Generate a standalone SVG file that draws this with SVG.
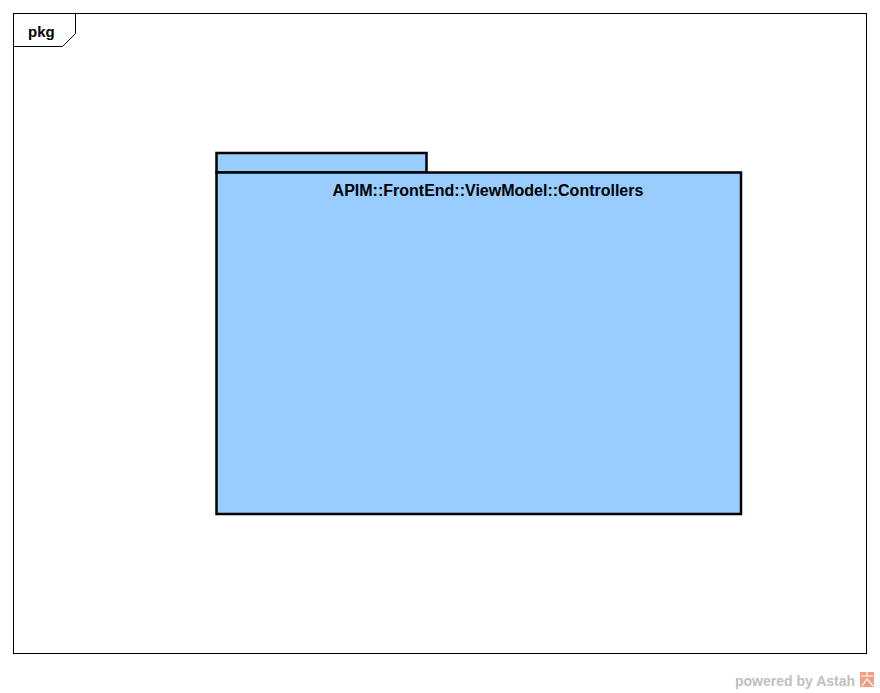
<svg xmlns="http://www.w3.org/2000/svg" width="880" height="693" viewBox="0 0 880 693">
<style>
.frame{fill:#fff;stroke:#000;stroke-width:1}
.pkg{fill:#99ccff;stroke:#000;stroke-width:2.5}
.t{font-family:"Liberation Sans",Arial,sans-serif;font-weight:bold;fill:#000}
.wm{font-family:"Liberation Sans",Arial,sans-serif;font-weight:bold;font-size:14px;fill:#c0c0c0}
</style>
<rect width="880" height="693" fill="#fff"/>
<g id="frame">
<rect class="frame" x="13.5" y="13.5" width="853" height="640"/>
<path d="M13.5 46.5 H62.5 L75.5 33.5 V13.5" fill="none" stroke="#000" stroke-width="1"/>
<text class="t" x="28" y="37" font-size="15">pkg</text>
</g>
<g id="controllers">
<rect class="pkg" x="216.5" y="153" width="210" height="19.5"/>
<rect class="pkg" x="216.5" y="172.5" width="524.5" height="341.5"/>
<text class="t" x="488" y="196" font-size="16" text-anchor="middle">APIM::FrontEnd::ViewModel::Controllers</text>
</g>
<g id="connectors"/>
<g id="watermark">
<text class="wm" x="735" y="686">powered by Astah</text>
<rect x="860" y="672" width="14" height="15" fill="#f0a080"/>
<path d="M861 676 H873 M867 672 V676 M862 686 L867 679 L873 686" stroke="#fff" stroke-width="1.2" fill="none"/>
</g>
</svg>
